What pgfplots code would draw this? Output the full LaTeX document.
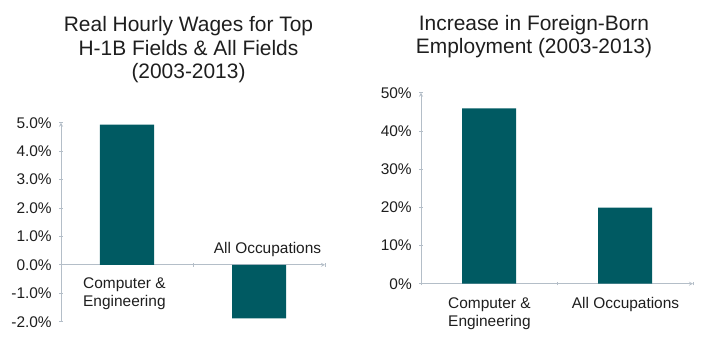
\documentclass[border=0pt]{standalone}
\usepackage{pgfplots}
\pgfplotsset{compat=1.18}
\usepackage{fontspec}
\setmainfont{Liberation Sans}
\definecolor{barteal}{HTML}{005A62}
\definecolor{axisgray}{HTML}{B4BEC8}
\definecolor{txt}{HTML}{1E1E1E}
\begin{document}
\begin{tikzpicture}
\useasboundingbox (0,0) rectangle (710bp,356bp);
\pgfplotsset{
  common/.style={
    scale only axis,
    xmin=0.5, xmax=2.5,
    xtick={0.5,1.5,2.5}, xticklabels={},
    ybar, bar width=54bp,
    axis line style={-, color=axisgray, line width=0.8bp},
    tick style={color=axisgray, line width=0.8bp},
    tick align=outside, major tick length=3.5bp,
    ticklabel style={font=\fontsize{15.5}{18}\selectfont, text=txt},
    yticklabel style={xshift=-4bp},
    /pgf/number format/assume math mode=true,
    enlarge x limits=false, clip=false,
  }
}
\begin{axis}[common,
  at={(61bp,34.3bp)}, anchor=south west,
  width=264bp, height=199bp,
  ymin=-2, ymax=5, ytick={-2,-1,...,5},
  axis y line=left, axis x line=middle,
  yticklabel={\pgfmathprintnumber[fixed,fixed zerofill,precision=1]{\tick}\%},
]
\addplot[fill=barteal, draw=none] coordinates {(1,4.93) (2,-1.88)};
\end{axis}
\begin{axis}[common,
  at={(421bp,72.3bp)}, anchor=south west,
  width=272bp, height=191bp,
  ymin=0, ymax=50, ytick={0,10,...,50},
  axis y line=left, axis x line=bottom,
  yticklabel={\pgfmathprintnumber{\tick}\%},
]
\addplot[fill=barteal, draw=none] coordinates {(1,45.9) (2,19.9)};
\end{axis}
% titles
\node[align=center, text=txt, font=\fontsize{21}{23.5}\selectfont] at (188.5bp,306bp)
  {Real Hourly Wages for Top\\H-1B Fields \& All Fields\\(2003-2013)};
\node[align=center, text=txt, font=\fontsize{21}{23.5}\selectfont] at (534bp,319.5bp)
  {Increase in Foreign-Born\\Employment (2003-2013)};
% category labels
\node[align=left, anchor=west, text=txt, font=\fontsize{15.5}{18}\selectfont, inner sep=0] at (83bp,62bp)
  {Computer \&\\Engineering};
\node[text=txt, font=\fontsize{15.5}{18}\selectfont] at (267.5bp,106bp) {All Occupations};
\node[align=left, anchor=west, text=txt, font=\fontsize{15.5}{18}\selectfont, inner sep=0] at (448bp,42bp)
  {Computer \&\\Engineering};
\node[text=txt, font=\fontsize{15.5}{18}\selectfont] at (625.5bp,51bp) {All Occupations};
\end{tikzpicture}
\end{document}
